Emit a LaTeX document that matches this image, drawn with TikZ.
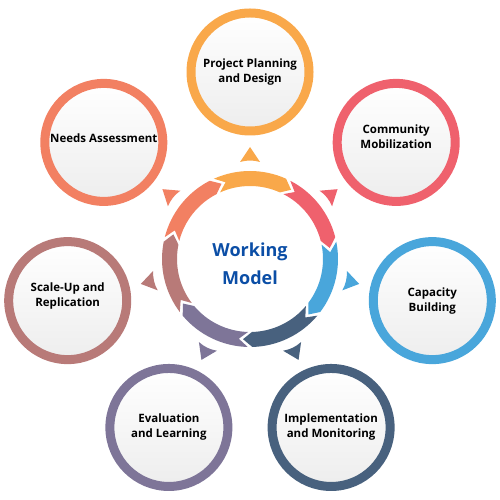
\documentclass[tikz,border=0pt]{standalone}
\usepackage{fontspec}
\setmainfont{Open Sans}
\usetikzlibrary{calc}

\definecolor{cOrange}{HTML}{F9A84A}
\definecolor{cRed}{HTML}{EF616D}
\definecolor{cBlue}{HTML}{49A6DB}
\definecolor{cSlate}{HTML}{48617E}
\definecolor{cPurple}{HTML}{7E7598}
\definecolor{cRose}{HTML}{B87A78}
\definecolor{cCoral}{HTML}{F28062}
\definecolor{cTitle}{HTML}{0B4EA6}

\tikzset{
  stage/.style={circle, draw=#1, line width=9pt, minimum size=118pt, inner sep=0pt,
    align=center, top color=white, bottom color=black!7, text=black,
    font=\bfseries\fontsize{11.5}{15}\selectfont},
  ringseg/.pic={
    \fill (#1+24.2:88) arc[start angle=#1+24.2, end angle=#1-24.2, radius=88]
      -- (#1-30.7:80.5) -- (#1-24.2:73)
      arc[start angle=#1-24.2, end angle=#1+24.2, radius=73]
      -- (#1+17.7:80.5) -- cycle;
  },
  tip/.pic={
    \fill (0,10) -- (15,0) -- (0,-10) .. controls (2,-3) and (2,3) .. cycle;
  },
}

\begin{document}
\begin{tikzpicture}[x=1pt, y=1pt]
  \useasboundingbox (0,0) rectangle (500,500);
  \coordinate (hub) at (250,241);

  \node[text=cTitle, align=center, font=\bfseries\fontsize{18}{28}\selectfont] (title) at (250,236) {Working\\Model};

  \node[stage=cOrange] (plan) at ($(hub)+(90:187)$) {Project Planning\\and Design};
  \node[stage=cRed, text depth=11pt] (mobil) at ($(hub)+(38.57:187)$) {Community\\Mobilization};
  \node[stage=cBlue] (capac) at ($(hub)+(-12.86:187)$) {Capacity\\Building};
  \node[stage=cSlate] (impl) at ($(hub)+(-64.29:187)$) {Implementation\\and Monitoring};
  \node[stage=cPurple] (evalu) at ($(hub)+(-115.71:187)$) {Evaluation\\and Learning};
  \node[stage=cRose, text depth=11pt] (scale) at ($(hub)+(192.86:187)$) {Scale-Up and\\Replication};
  \node[stage=cCoral, text depth=8pt] (needs) at ($(hub)+(141.43:187)$) {Needs Assessment};

  % ring of arrows, clockwise
  \pic[cOrange] at (hub) {ringseg=90};
  \pic[cRed] at (hub) {ringseg=38.57};
  \pic[cBlue] at (hub) {ringseg=-12.86};
  \pic[cSlate] at (hub) {ringseg=-64.29};
  \pic[cPurple] at (hub) {ringseg=-115.71};
  \pic[cRose] at (hub) {ringseg=192.86};
  \pic[cCoral] at (hub) {ringseg=141.43};

  % pointers to the stages
  \pic[cOrange, rotate=90] at ($(hub)!97pt!(plan)$) {tip};
  \pic[cRed, rotate=38.57] at ($(hub)!97pt!(mobil)$) {tip};
  \pic[cBlue, rotate=-12.86] at ($(hub)!97pt!(capac)$) {tip};
  \pic[cSlate, rotate=-64.29] at ($(hub)!97pt!(impl)$) {tip};
  \pic[cPurple, rotate=-115.71] at ($(hub)!97pt!(evalu)$) {tip};
  \pic[cRose, rotate=192.86] at ($(hub)!97pt!(scale)$) {tip};
  \pic[cCoral, rotate=141.43] at ($(hub)!97pt!(needs)$) {tip};
\end{tikzpicture}
\end{document}
